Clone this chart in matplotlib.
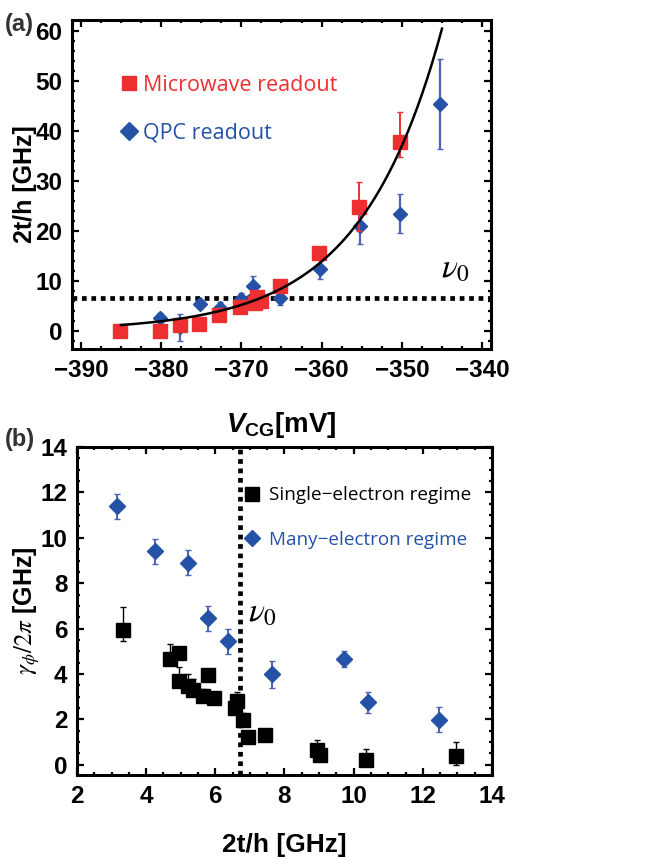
import numpy as np
import matplotlib
matplotlib.use('Agg')
import matplotlib.pyplot as plt
from matplotlib.lines import Line2D
from matplotlib.ticker import MultipleLocator, AutoMinorLocator

plt.rcParams['font.family'] = ['Liberation Sans', 'DejaVu Sans']
plt.rcParams['mathtext.fontset'] = 'custom'
plt.rcParams['mathtext.rm'] = 'Liberation Sans:bold'
plt.rcParams['mathtext.bf'] = 'Liberation Sans:bold'
plt.rcParams['mathtext.it'] = 'Liberation Sans:italic:bold'

RED = '#ee2f2f'
BLUE = '#2452a6'
BLUE_ERR = '#4b62b5'

# (a) tunnel coupling vs gate voltage
mw_v = [-385.1, -380.2, -377.7, -375.3, -372.8, -370.2, -368.3, -368.0, -367.5, -365.2, -360.3, -355.3, -350.2]
mw_t = [0.0, 0.0, 1.2, 1.5, 3.2, 4.8, 5.7, 6.8, 6.0, 9.0, 15.6, 24.8, 37.9]
mw_lo = [0.4, 0.4, 0.5, 0.4, 0.5, 0.5, 0.5, 0.6, 0.5, 0.6, 0.8, 4.8, 3.0]
mw_hi = [0.4, 0.4, 0.5, 0.4, 0.5, 0.5, 0.5, 0.6, 0.5, 0.6, 0.8, 5.0, 5.9]

qpc_v = [-380.1, -377.7, -375.2, -372.7, -370.0, -369.0, -368.5, -365.2, -360.2, -355.2, -350.2, -345.2]
qpc_t = [2.6, 0.8, 5.5, 4.6, 6.4, 6.0, 9.0, 6.7, 12.4, 21.1, 23.5, 45.5]
qpc_err = [1.1, 2.7, 0.8, 1.3, 1.2, 1.0, 2.0, 1.4, 2.0, 3.6, 3.9, 9.0]

# exponential fit 2t/h = A exp(B (V - V0))
fit_amp = 1.2
fit_rate = 0.098
fit_v0 = -385.0
fit_v_end = -345.0

nu0 = 6.7

# (b) dephasing rate vs tunnel coupling
single_t = [3.34, 4.69, 4.96, 4.96, 5.22, 5.36, 5.65, 5.80, 5.96, 6.57, 6.63, 6.81, 6.95, 7.43, 8.95, 9.04, 10.35, 12.95]
single_g = [5.95, 4.65, 4.92, 3.71, 3.45, 3.30, 3.04, 3.96, 2.94, 2.50, 2.82, 1.98, 1.22, 1.32, 0.66, 0.44, 0.19, 0.40]
single_lo = [0.5, 0.2, 0.1, 0.2, 0.2, 0.2, 0.1, 0.1, 0.1, 0.2, 0.2, 0.1, 0.1, 0.1, 0.2, 0.1, 0.2, 0.4]
single_hi = [1.0, 0.65, 0.1, 0.6, 0.55, 0.5, 0.3, 0.1, 0.1, 0.2, 0.4, 0.3, 0.1, 0.1, 0.45, 0.1, 0.5, 0.6]

many_t = [3.15, 4.25, 5.22, 5.80, 6.36, 7.63, 9.72, 10.42, 12.47]
many_g = [11.4, 9.4, 8.9, 6.45, 5.45, 3.98, 4.65, 2.75, 1.98]
many_err = [0.55, 0.55, 0.55, 0.55, 0.55, 0.6, 0.35, 0.45, 0.55]

fig = plt.figure(figsize=(6.65, 8.59), dpi=100)
ax1 = fig.add_axes([0.1083, 0.5937, 0.630, 0.383])
ax2 = fig.add_axes([0.1158, 0.0978, 0.624, 0.3818])

for ax in (ax1, ax2):
    for s in ax.spines.values():
        s.set_linewidth(2.2)
    ax.tick_params(which='both', direction='in', top=True, right=True, width=1.6)
    ax.tick_params(which='major', length=5, labelsize=17.5, pad=7)
    ax.tick_params(which='minor', length=2.5)

# ---- panel (a)
vv = np.linspace(fit_v0, fit_v_end, 200)
ax1.plot(vv, fit_amp * np.exp(fit_rate * (vv - fit_v0)), color='black', lw=1.8, zorder=4)
ax1.axhline(nu0, color='black', lw=3.4, ls=(0, (1, 1)), zorder=1)
ax1.errorbar(mw_v, mw_t, yerr=[mw_lo, mw_hi], fmt='s', color=RED, ms=9.5, mec=RED,
             ecolor=RED, elinewidth=1.4, capsize=2.5, zorder=3)
ax1.errorbar(qpc_v, qpc_t, yerr=qpc_err, fmt='D', color=BLUE, ms=7.5, mec=BLUE,
             ecolor=BLUE_ERR, elinewidth=1.6, capsize=2.5, zorder=2)
ax1.set_xlim(-391.1, -338.9)
ax1.set_ylim(-3.6, 62.2)
ax1.xaxis.set_major_locator(MultipleLocator(10))
ax1.xaxis.set_minor_locator(AutoMinorLocator(4))
ax1.yaxis.set_major_locator(MultipleLocator(10))
ax1.yaxis.set_minor_locator(AutoMinorLocator(5))
ax1.text(-343.3, 9.3, r'$\nu_0$', fontsize=24, math_fontfamily='stix', ha='center', va='bottom')

h1 = [Line2D([], [], ls='none', marker='s', ms=10, color=RED),
      Line2D([], [], ls='none', marker='D', ms=9, color=BLUE)]
leg1 = ax1.legend(h1, ['Microwave readout', 'QPC readout'], loc='upper left',
                  bbox_to_anchor=(0.085, 0.88), frameon=False, handlelength=0.6,
                  handletextpad=0.35, labelspacing=1.25, borderpad=0.2,
                  prop={'family': 'Open Sans', 'size': 15.5})
for t, c in zip(leg1.get_texts(), [RED, BLUE]):
    t.set_color(c)

ax1.set_xlabel(r'$\mathit{V}_{\mathbf{CG}}$[mV]', fontsize=20, fontweight='bold', labelpad=20)
ax1.set_ylabel('2t/h [GHz]', fontsize=18, fontweight='bold', labelpad=-1)

# ---- panel (b)
ax2.axvline(nu0, color='black', lw=3.4, ls=(0, (1, 1)), zorder=1)
ax2.errorbar(many_t, many_g, yerr=many_err, fmt='D', color=BLUE, ms=8, mec=BLUE,
             ecolor=BLUE_ERR, elinewidth=1.4, capsize=2.5, zorder=2)
ax2.errorbar(single_t, single_g, yerr=[single_lo, single_hi], fmt='s', color='black',
             ms=10.5, ecolor='black', elinewidth=1.0, capsize=2, zorder=3)
ax2.set_xlim(2, 14)
ax2.set_ylim(-0.45, 14)
ax2.xaxis.set_major_locator(MultipleLocator(2))
ax2.xaxis.set_minor_locator(AutoMinorLocator(4))
ax2.yaxis.set_major_locator(MultipleLocator(2))
ax2.yaxis.set_minor_locator(AutoMinorLocator(4))
ax2.text(7.35, 6.0, r'$\nu_0$', fontsize=24, math_fontfamily='stix', ha='center', va='bottom')

h2 = [Line2D([], [], ls='none', marker='s', ms=10, color='black'),
      Line2D([], [], ls='none', marker='D', ms=8, color=BLUE)]
leg2 = ax2.legend(h2, ['Single\u2212electron regime', 'Many\u2212electron regime'], loc='upper left',
                  bbox_to_anchor=(0.375, 0.92), frameon=False, handlelength=0.6,
                  handletextpad=0.6, labelspacing=1.4, borderpad=0.2,
                  prop={'family': 'Open Sans', 'size': 13.6})
for t, c in zip(leg2.get_texts(), ['black', BLUE]):
    t.set_color(c)

ax2.set_xlabel('2t/h [GHz]', fontsize=19, fontweight='bold', labelpad=18)
ax2.set_ylabel(r'$\gamma_\phi/2\pi$ [GHz]', fontsize=18, fontweight='bold', labelpad=-1,
               math_fontfamily='stix')

fig.text(0.008, 0.972, '(a)', fontsize=17, fontweight='bold', color='#333333', va='center')
fig.text(0.008, 0.488, '(b)', fontsize=17, fontweight='bold', color='#333333', va='center')

# tick labels bold (set after a first draw so the tick objects exist)
fig.canvas.draw()
for ax in (ax1, ax2):
    for lab in ax.get_xticklabels() + ax.get_yticklabels():
        lab.set_fontweight('bold')

fig.savefig('out.png', dpi=100)
